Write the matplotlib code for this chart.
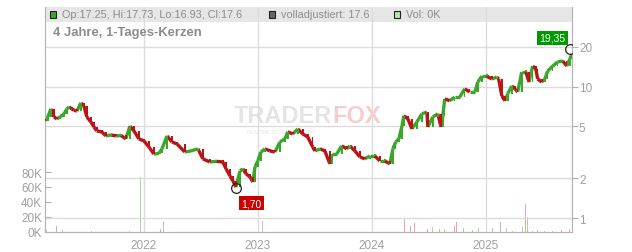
import matplotlib
matplotlib.use("Agg")
import matplotlib.pyplot as plt
from matplotlib.patches import Rectangle
from matplotlib.collections import LineCollection
import matplotlib.dates as mdates
import pandas as pd

plt.rcParams['font.family'] = ['Liberation Sans', 'DejaVu Sans']

# ---- price data ----
candle_dates = [
    '2021-02-18', '2021-02-27', '2021-03-09', '2021-03-19', '2021-03-28', '2021-04-07',
    '2021-04-20', '2021-04-29', '2021-05-06', '2021-05-15', '2021-05-22', '2021-05-31',
    '2021-06-13', '2021-06-23', '2021-07-02', '2021-07-15', '2021-07-25', '2021-08-03',
    '2021-08-19', '2021-09-01', '2021-09-17', '2021-10-03', '2021-10-19', '2021-11-04',
    '2021-11-17', '2021-11-30', '2021-12-16', '2022-01-01', '2022-01-17', '2022-02-02',
    '2022-02-18', '2022-02-28', '2022-03-16', '2022-04-01', '2022-04-17', '2022-05-12',
    '2022-06-01', '2022-06-23', '2022-07-09', '2022-07-31', '2022-08-20', '2022-09-11',
    '2022-09-21', '2022-10-04', '2022-10-13', '2022-10-23', '2022-11-05', '2022-11-14',
    '2022-11-24', '2022-12-07', '2022-12-16', '2022-12-23', '2023-01-01', '2023-01-11',
    '2023-01-24', '2023-02-09', '2023-02-25', '2023-03-13', '2023-03-29', '2023-04-07',
    '2023-04-23', '2023-05-09', '2023-05-25', '2023-06-10', '2023-06-26', '2023-07-03',
    '2023-07-19', '2023-08-04', '2023-08-20', '2023-08-26', '2023-09-11', '2023-09-27',
    '2023-10-13', '2023-10-23', '2023-11-08', '2023-11-24', '2023-12-10', '2023-12-26',
    '2024-01-11', '2024-01-27', '2024-02-12', '2024-02-28', '2024-03-09', '2024-03-18',
    '2024-03-28', '2024-04-07', '2024-04-13', '2024-04-26', '2024-05-09', '2024-05-25',
    '2024-06-10', '2024-06-26', '2024-06-29', '2024-07-15', '2024-07-31', '2024-08-10',
    '2024-08-16', '2024-08-22', '2024-09-07', '2024-09-23', '2024-10-09', '2024-10-25',
    '2024-11-10', '2024-11-27', '2024-12-06', '2024-12-19', '2025-01-04', '2025-01-20',
    '2025-02-05', '2025-02-11', '2025-02-21', '2025-03-03', '2025-03-12', '2025-03-25',
    '2025-04-04', '2025-04-13', '2025-04-26', '2025-05-09', '2025-05-19', '2025-05-31',
    '2025-06-10', '2025-06-16', '2025-06-29', '2025-07-09', '2025-07-18', '2025-08-03',
    '2025-08-19', '2025-09-04', '2025-09-17', '2025-09-27', '2025-10-03',
]
closes = [
    5.48, 5.87, 6.76, 5.87, 5.67, 5.87,
    6.2, 6.76, 7.0, 6.76, 6.6, 6.5,
    7.5, 7.1, 5.87, 5.38, 4.93, 4.6,
    4.52, 4.21, 4.29, 4.21, 4.25, 4.0,
    5.0, 4.6, 4.0, 3.86, 3.47, 3.07,
    3.1, 3.36, 4.21, 3.79, 3.66, 3.18,
    3.24, 3.36, 2.82, 2.67, 2.7, 2.67,
    2.37, 2.09, 1.92, 1.72, 2.28, 2.37,
    2.17, 2.06, 1.88, 2.45, 2.72, 3.18,
    3.36, 3.24, 3.18, 3.79, 4.0, 4.52,
    4.36, 4.76, 4.36, 4.14, 3.47, 3.24,
    3.36, 3.24, 2.58, 3.07, 3.07, 3.54,
    3.36, 3.54, 3.24, 2.92, 2.82, 2.97,
    2.97, 2.72, 2.72, 2.58, 3.36, 3.79,
    4.0, 5.0, 6.0, 5.67, 4.76, 5.38,
    6.2, 6.4, 4.93, 5.87, 6.2, 4.93,
    6.0, 8.05, 7.8, 8.3, 8.3, 9.6,
    9.1, 9.1, 10.8, 12.0, 12.0, 11.4,
    11.8, 11.4, 8.5, 7.8, 8.8, 10.1,
    9.6, 9.1, 12.9, 12.9, 10.8, 14.3,
    13.6, 11.4, 10.8, 11.4, 13.1, 14.3,
    15.4, 15.65, 14.3, 16.2, 17.6,
]
first_open = 5.6

# ---- volume data ----
vol_dates = [
    '2021-02-24', '2021-03-28', '2021-04-16', '2021-05-22', '2021-07-18', '2021-08-23',
    '2021-10-23', '2021-11-17', '2021-12-10', '2021-12-22', '2021-12-29', '2022-01-14',
    '2022-02-24', '2022-03-06', '2022-03-19', '2022-06-07', '2022-08-07', '2022-10-23',
    '2023-01-17', '2023-04-11', '2023-06-17', '2024-02-19', '2024-03-06', '2024-03-09',
    '2024-03-25', '2024-04-16', '2024-04-23', '2024-05-05', '2024-05-18', '2024-05-25',
    '2024-06-10', '2024-06-29', '2024-07-15', '2024-07-25', '2024-08-06', '2024-08-22',
    '2024-09-11', '2024-09-23', '2024-09-30', '2024-10-13', '2024-10-22', '2024-10-29',
    '2024-11-20', '2024-12-09', '2025-01-04', '2025-01-23', '2025-02-18', '2025-03-09',
    '2025-03-28', '2025-04-29', '2025-05-09', '2025-05-15', '2025-05-31', '2025-06-16',
    '2025-07-09', '2025-08-03', '2025-09-01', '2025-09-27',
]
volumes = [
    3000, 8000, 3000, 6000, 2000, 9000,
    4000, 2000, 9000, 73000, 4000, 4000,
    4000, 15000, 11000, 11000, 4000, 3000,
    15000, 2000, 2000, 14000, 47000, 14000,
    19000, 19000, 8000, 8000, 12000, 7000,
    3000, 4000, 7000, 6000, 4000, 4000,
    5000, 8000, 13000, 17000, 6000, 23000,
    3000, 5000, 2000, 5000, 13000, 5000,
    2000, 7000, 37000, 20000, 2000, 3000,
    2000, 2000, 3000, 4000,
]
vol_up = [
    1, 0, 1, 0, 1, 0,
    1, 1, 0, 1, 1, 0,
    0, 1, 1, 0, 1, 0,
    1, 1, 1, 0, 1, 1,
    1, 0, 1, 0, 0, 1,
    1, 0, 1, 1, 0, 1,
    1, 0, 0, 1, 1, 0,
    1, 1, 1, 1, 0, 1,
    1, 1, 0, 1, 1, 1,
    1, 1, 0, 0,
]

low_point = ('2022-10-23', 1.70)
high_point = ('2025-09-27', 19.35)
year_ticks = ['2022-01-01', '2023-01-01', '2024-01-01', '2025-01-01']
year_labels = ['2022', '2023', '2024', '2025']
price_ticks = [1, 2, 5, 10, 20]
vol_ticks = [0, 20000, 40000, 60000, 80000]

GREEN = '#3aa62a'
RED = '#bb1418'
GRID = '#dcdcdc'
TXT = '#a0a0a0'

W, H = 632, 253
fig = plt.figure(figsize=(W / 100, H / 100), dpi=100)
fig.patch.set_facecolor('white')

# plot frame: x 45..572, y 8..233 (pixels)
ax = fig.add_axes([45 / W, (H - 233) / H, (572 - 45) / W, 225 / H])
ax2 = ax.twinx()

d = pd.to_datetime(candle_dates)
opens = [first_open] + closes[:-1]
vd = pd.to_datetime(vol_dates)


def px(x, y):
    return x / W, 1 - y / H


# volume bars (left axis)
vcols = ['#9fdc98' if u else '#f0a2aa' for u in vol_up]
ax.bar(vd, volumes, width=2.5, color=vcols, zorder=2)
ax.set_ylim(0, 300000)
ax.set_yticks(vol_ticks)
ax.set_yticklabels([f'{int(v / 1000)}K' for v in vol_ticks])
ax.tick_params(axis='y', direction='in', length=4, color='#b0b0b0',
               labelsize=8.5, labelcolor=TXT, pad=2)

# watermark
ax.text(*px(332, 117), 'TRADER', transform=fig.transFigure, ha='right', va='center',
        fontsize=17, fontweight='bold', color='#e4e4e4', zorder=1)
ax.text(*px(332, 117), 'FOX', transform=fig.transFigure, ha='left', va='center',
        fontsize=17, fontweight='bold', color='#f6cccc', zorder=1)
ax.text(*px(282, 132), 'REALTIME STOCK SCREENING', transform=fig.transFigure,
        ha='center', va='center', fontsize=3.3, color='#e4e4e4', zorder=1)

# price candles (right axis, log)
ax2.set_yscale('log')
ax2.set_ylim(0.784, 40.2)
for p in price_ticks:
    ax2.axhline(p, color=GRID, lw=1, zorder=0.5)
for yt in year_ticks:
    ax2.axvline(pd.Timestamp(yt), color=GRID, lw=1, zorder=0.5)

xs = mdates.date2num(d)
ccols = [GREEN if c >= o else RED for o, c in zip(opens, closes)]
segs = [[(xs[i - 1], closes[i - 1]), (xs[i], closes[i])] for i in range(1, len(xs))]
ax2.add_collection(LineCollection(segs, colors=ccols[1:], linewidths=2.4,
                                  capstyle='butt', zorder=2))
bottoms = [min(o, c) for o, c in zip(opens, closes)]
heights = [max(abs(c - o), 0.03 * c) for o, c in zip(opens, closes)]
ax2.bar(d, heights, bottom=bottoms, width=5, color=ccols, zorder=3)

ax2.set_yticks(price_ticks)
ax2.set_yticklabels([str(p) for p in price_ticks])
ax2.yaxis.set_minor_locator(matplotlib.ticker.NullLocator())
ax2.tick_params(axis='y', direction='out', length=4, color='#b0b0b0',
                labelsize=8.5, labelcolor=TXT, pad=1)

# header band
ax2.add_patch(Rectangle((0, 210 / 225), 1, 15 / 225, transform=ax2.transAxes,
                        facecolor='#e6e6e6', edgecolor='none', zorder=0.3))
fig.patches.append(Rectangle(px(50, 19), 6 / W, 7 / H, transform=fig.transFigure,
                             facecolor='#33aa22', edgecolor='#222222', lw=0.8))
fig.text(*px(62, 15.5), 'Op:17.25, Hi:17.73, Lo:16.93, Cl:17.6', fontsize=7.8,
         color='#8c8c8c', va='center')
fig.patches.append(Rectangle(px(269, 19), 6 / W, 7 / H, transform=fig.transFigure,
                             facecolor='#666666', edgecolor='#222222', lw=0.8))
fig.text(*px(281, 15.5), 'volladjustiert: 17.6', fontsize=7.8, color='#8c8c8c', va='center')
fig.patches.append(Rectangle(px(394, 19), 6 / W, 7 / H, transform=fig.transFigure,
                             facecolor='#b8e4b0', edgecolor='#222222', lw=0.8))
fig.text(*px(406, 15.5), 'Vol: 0K', fontsize=7.8, color='#8c8c8c', va='center')
fig.text(*px(53, 33), '4 Jahre, 1-Tages-Kerzen', fontsize=9.4, fontweight='bold',
         color='#8c8c8c', va='center')

# min / max markers
lo_d, lo_v = pd.Timestamp(low_point[0]), low_point[1]
hi_d, hi_v = pd.Timestamp(high_point[0]), high_point[1]
ax2.plot([lo_d, hi_d], [lo_v, hi_v], 'o', ms=7, mfc='none', mec='#222222', mew=0.9, zorder=5)
ax2.annotate('1,70', (lo_d, lo_v), xytext=(4, -11), textcoords='offset points',
             ha='left', va='center', fontsize=7.5, color='white', zorder=6,
             bbox=dict(boxstyle='square,pad=0.2', fc='#cc0000', ec='none'))
ax2.annotate('19,35', (hi_d, hi_v), xytext=(-3, 8), textcoords='offset points',
             ha='right', va='center', fontsize=7.5, color='white', zorder=6,
             bbox=dict(boxstyle='square,pad=0.2', fc='#009900', ec='none'))

# x axis
ax.set_xlim(pd.Timestamp('2021-02-18'), pd.Timestamp('2025-10-04'))
ax.set_xticks(pd.to_datetime(year_ticks))
ax.set_xticklabels(year_labels)
ax.tick_params(axis='x', length=0, labelsize=8.5, labelcolor=TXT, pad=5)

for a in (ax, ax2):
    a.spines['top'].set_visible(False)
    for s in ('left', 'right', 'bottom'):
        a.spines[s].set_color('#b4b4b4')

fig.savefig('out.png', dpi=100, facecolor='white')
